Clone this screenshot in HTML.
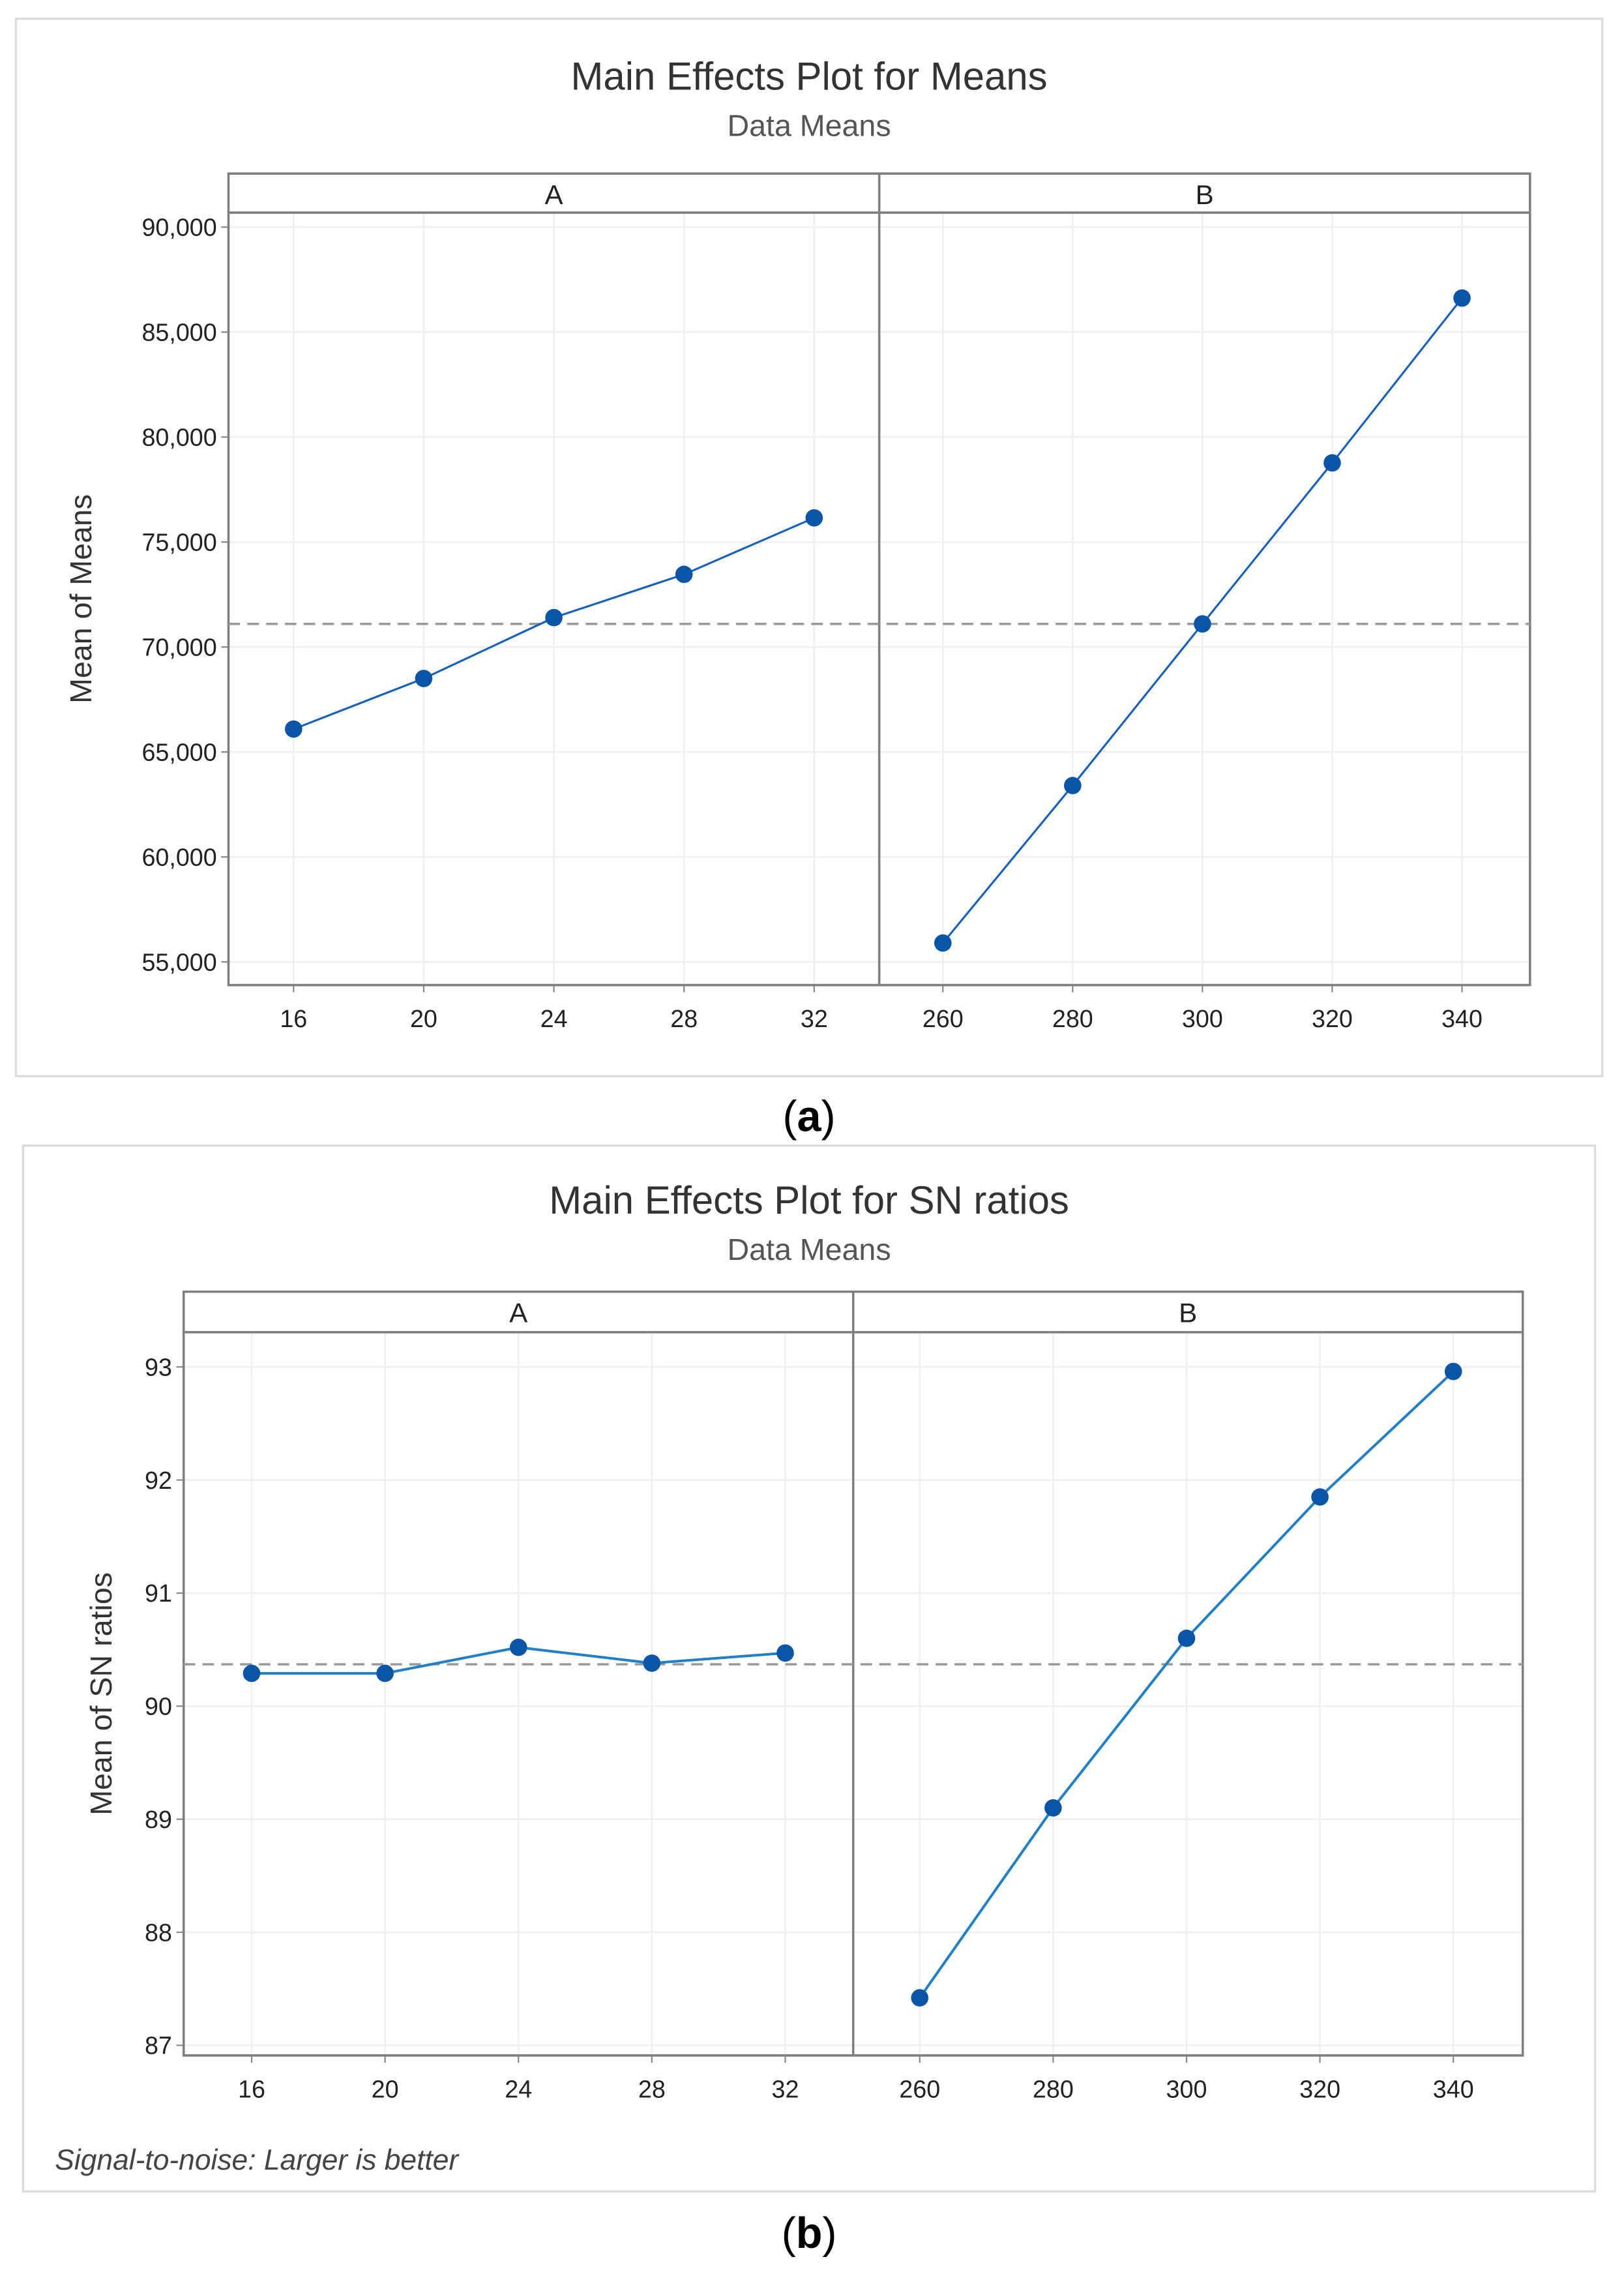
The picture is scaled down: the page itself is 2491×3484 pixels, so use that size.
<!DOCTYPE html>
<html><head><meta charset="utf-8"><style>
html,body{margin:0;padding:0;background:#fff;}
svg{display:block;}
text{font-family:"Liberation Sans",sans-serif;}
</style></head><body>
<svg id="root" width="2491" height="3484" viewBox="0 0 1123 1570.7" xmlns="http://www.w3.org/2000/svg"></svg>
<script>
// ---- Chart (a) data ----
const aCatsA = [16, 20, 24, 28, 32];
const aCatsB = [260, 280, 300, 320, 340];
const aValsA = [66090, 68500, 71400, 73460, 76150];
const aValsB = [55900, 63400, 71100, 78770, 86620];
const aMean = [71100];
const aYTicks = [55000, 60000, 65000, 70000, 75000, 80000, 85000, 90000];
const aYLabels = ["55,000","60,000","65,000","70,000","75,000","80,000","85,000","90,000"];
// ---- Chart (b) data ----
const bCatsA = [16, 20, 24, 28, 32];
const bCatsB = [260, 280, 300, 320, 340];
const bValsA = [90.29, 90.29, 90.52, 90.38, 90.47];
const bValsB = [87.42, 89.10, 90.60, 91.85, 92.96];
const bMean = [90.37];
const bYTicks = [87, 88, 89, 90, 91, 92, 93];
const bYLabels = ["87","88","89","90","91","92","93"];

const NS = "http://www.w3.org/2000/svg";
const root = document.getElementById('root');
function mk(tag, attrs, parent, txt){
  const e = document.createElementNS(NS, tag);
  for (const k in attrs) e.setAttribute(k, attrs[k]);
  if (txt !== undefined) e.textContent = txt;
  (parent || root).appendChild(e);
  return e;
}

function chart(cfg){
  const g = mk('g', {});
  
  
  const fr = mk('rect', {x:cfg.box[0], y:cfg.box[1], width:cfg.box[2]-cfg.box[0], height:cfg.box[3]-cfg.box[1], fill:'#fff', stroke:'#dcdcdc', 'stroke-width':1.5}, g);
  
  
  const cx = (cfg.box[0]+cfg.box[2])/2;
  const t = mk('text', {x:cx, y:cfg.titleY, 'text-anchor':'middle', 'font-size':27, fill:'#333'}, g, cfg.title);
  
  
  const st = mk('text', {x:cx, y:cfg.subY, 'text-anchor':'middle', 'font-size':21, fill:'#555'}, g, 'Data Means');
  
  

  const L = cfg.L, R = cfg.R, D = cfg.D, HT = cfg.HT, HB = cfg.HB, B = cfg.B;
  // y scale
  const y = v => cfg.y0px + (v - cfg.y0) * (cfg.y1px - cfg.y0px) / (cfg.y1 - cfg.y0);
  const xA = v => cfg.xA0px + (v - cfg.catsA[0]) * (cfg.xA1px - cfg.xA0px) / (cfg.catsA[cfg.catsA.length-1] - cfg.catsA[0]);
  const xB = v => cfg.xB0px + (v - cfg.catsB[0]) * (cfg.xB1px - cfg.xB0px) / (cfg.catsB[cfg.catsB.length-1] - cfg.catsB[0]);

  // gridlines
  cfg.yTicks.forEach((v,i) => {
    const gl = mk('line', {x1:L, x2:R, y1:y(v), y2:y(v), stroke:'#f0f0f0', 'stroke-width':1.2}, g);
    
    
    mk('line', {x1:L-5, x2:L, y1:y(v), y2:y(v), stroke:'#888', 'stroke-width':1}, g);
    const tl = mk('text', {x:L-8, y:y(v)+6, 'text-anchor':'end', 'font-size':17, fill:'#222'}, g, cfg.yLabels[i]);
    
    
  });
  cfg.catsA.forEach(v => {
    const gl = mk('line', {x1:xA(v), x2:xA(v), y1:HB, y2:B, stroke:'#f0f0f0', 'stroke-width':1.2}, g);
    
    
    mk('line', {x1:xA(v), x2:xA(v), y1:B, y2:B+5, stroke:'#888', 'stroke-width':1}, g);
    const tl = mk('text', {x:xA(v), y:B+29, 'text-anchor':'middle', 'font-size':17, fill:'#222'}, g, String(v));
    
    
  });
  cfg.catsB.forEach(v => {
    const gl = mk('line', {x1:xB(v), x2:xB(v), y1:HB, y2:B, stroke:'#f0f0f0', 'stroke-width':1.2}, g);
    
    
    mk('line', {x1:xB(v), x2:xB(v), y1:B, y2:B+5, stroke:'#888', 'stroke-width':1}, g);
    const tl = mk('text', {x:xB(v), y:B+29, 'text-anchor':'middle', 'font-size':17, fill:'#222'}, g, String(v));
    
    
  });
  // panel frame
  const pf = mk('path', {d:`M${L},${B} L${L},${HT} L${R},${HT} L${R},${B} Z M${L},${HB} L${R},${HB} M${D},${HT} L${D},${B}`, fill:'none', stroke:'#7f7f7f', 'stroke-width':1.6}, g);
  
  
  const ha = mk('text', {x:(L+D)/2, y:HT+21, 'text-anchor':'middle', 'font-size':19, fill:'#222'}, g, 'A');
  
  
  const hb = mk('text', {x:(D+R)/2, y:HT+21, 'text-anchor':'middle', 'font-size':19, fill:'#222'}, g, 'B');
  
  
  // y axis title
  const ay = cfg.axisX, my = (HB+B)/2;
  const yt = mk('text', {x:ay, y:my, 'text-anchor':'middle', 'font-size':21, fill:'#333', transform:`rotate(-90 ${ay} ${my})`}, g, cfg.yTitle);
  
  
  // mean line
  const ml = mk('line', {x1:L, x2:R, y1:y(cfg.mean[0]), y2:y(cfg.mean[0]), stroke:'#999', 'stroke-width':1.6, 'stroke-dasharray':'8,5'}, g);
  
  
  // series
  function series(cats, vals, xf, nm){
    const pts = cats.map((c,i) => xf(c)+','+y(vals[i])).join(' ');
    const pl = mk('polyline', {points:pts, fill:'none', stroke:cfg.lineColor, 'stroke-width':cfg.lw}, g);
    
    
    cats.forEach((c,i) => {
      const p = mk('circle', {cx:xf(c), cy:y(vals[i]), r:6, fill:'#0a55a8'}, g);
      
      
    });
  }
  series(cfg.catsA, cfg.valsA, xA, 'factor-a');
  series(cfg.catsB, cfg.valsB, xB, 'factor-b');
  const cap = mk('text', {x:cx, y:cfg.capY, 'text-anchor':'middle', 'font-size':30, fill:'#000', 'font-family':'Liberation Serif, serif'}, g);
  
  
  mk('tspan', {}, cap, '(');
  mk('tspan', {'font-weight':'bold'}, cap, cfg.cap);
  mk('tspan', {}, cap, ')');
  return g;
}

chart({name:'chart-means', box:[11,13,1108,744], title:'Main Effects Plot for Means', titleY:62, subY:94,
  L:158, R:1058, D:608, HT:120, HB:147, B:681, axisX:63,
  y0:55000, y1:90000, y0px:665, y1px:157,
  catsA:aCatsA, catsB:aCatsB, valsA:aValsA, valsB:aValsB, mean:aMean,
  xA0px:203, xA1px:563, xB0px:652, xB1px:1011,
  yTicks:aYTicks, yLabels:aYLabels, yTitle:'Mean of Means', lineColor:'#1560bd', lw:1.4, capY:782, cap:'a'});

const gb = chart({name:'chart-sn-ratios', box:[16,792,1103,1515], title:'Main Effects Plot for SN ratios', titleY:839, subY:871,
  L:127, R:1053, D:590, HT:893, HB:921, B:1421, axisX:77,
  y0:87, y1:93, y0px:1414, y1px:945,
  catsA:bCatsA, catsB:bCatsB, valsA:bValsA, valsB:bValsB, mean:bMean,
  xA0px:174, xA1px:543, xB0px:636, xB1px:1005,
  yTicks:bYTicks, yLabels:bYLabels, yTitle:'Mean of SN ratios', lineColor:'#1f7fc8', lw:1.8, capY:1554, cap:'b'});
const fn = mk('text', {x:38, y:1500, 'font-size':20, 'font-style':'italic', fill:'#444'}, gb, 'Signal-to-noise: Larger is better');


</script>
</body></html>
